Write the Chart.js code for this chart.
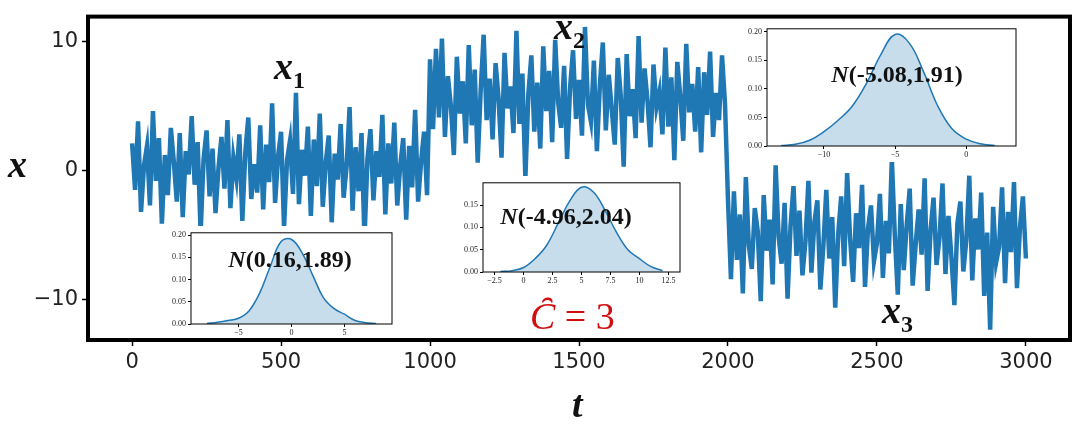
<!DOCTYPE html>
<html lang="en">
<head>
<meta charset="UTF-8" />
<title>Change points</title>
<script src="https://cdn.jsdelivr.net/npm/chart.js"></script>
<style>
  body { margin: 0; background: #fff; }
  #wrap { position: relative; width: 1080px; height: 424px; }
  canvas.inset { position: absolute; }
  .lbl { position: absolute; font-family: 'Liberation Serif', serif; font-weight: bold; color: #111; white-space: nowrap; }
  .lbl i { font-style: italic; }
  .big { font-size: 38px; font-style: italic; }
  .big sub { font-size: 24px; font-style: normal; }
  .nrm { font-size: 24px; transform: translateX(-50%); }
</style>
</head>
<body>
<div id="wrap">
  <canvas id="main" width="1080" height="424"></canvas>
  <canvas id="in1" class="inset" style="left:158px;top:226px" width="238" height="110"></canvas>
  <canvas id="in2" class="inset" style="left:450px;top:176px" width="234" height="112"></canvas>
  <canvas id="in3" class="inset" style="left:733px;top:22px" width="287" height="140"></canvas>

  <div class="lbl big" style="left:274px;top:44px">x<sub>1</sub></div>
  <div class="lbl big" style="left:554px;top:4px">x<sub>2</sub></div>
  <div class="lbl big" style="left:882px;top:288px">x<sub>3</sub></div>
  <div class="lbl big" style="left:8px;top:142px">x</div>
  <div class="lbl big" style="left:572px;top:382px">t</div>
  <div class="lbl" style="left:530px;top:294px;font-size:38px;font-weight:normal;color:#d01010"><i>C&#785;</i> = 3</div>
  <div class="lbl nrm" style="left:290px;top:246px"><i>N</i>(0.16,1.89)</div>
  <div class="lbl nrm" style="left:566px;top:203px"><i>N</i>(-4.96,2.04)</div>
  <div class="lbl nrm" style="left:897px;top:61px"><i>N</i>(-5.08,1.91)</div>
</div>
<script>
// series values, one array per regime
const seg1 = [2.1,-1.5,3.8,-3.2,0.4,1.9,-2.7,4.6,-0.8,2.5,-4.1,1.2,-1.9,3.3,0.7,-2.4,2.9,-3.6,1.5,-0.3,
  4.2,-1.1,2.2,-4.8,0.9,3.1,-2.0,1.7,-3.3,0.2,2.6,-1.4,3.9,-2.9,1.0,-0.6,2.8,-3.9,1.4,4.1,
  -2.2,0.5,-1.7,3.5,-3.0,2.0,-0.9,5.2,-2.5,1.1,3.0,-4.4,0.8,2.3,-1.8,6.0,-2.6,1.6,-0.4,3.4,
  -3.5,2.4,-1.2,4.4,-2.8,0.6,2.7,-4.0,1.3,-0.7,3.6,-2.1,0.3,4.9,-3.1,1.8,-1.6,2.9,-5.3,0.9,
  3.2,-2.3,1.5,-0.5,4.3,-3.4,2.1,-1.0,3.7,-2.7,0.4,2.5,-3.8,1.9,-1.3,4.7,-2.4,0.7,3.0,-1.9];
const seg2 = [8.6,3.2,9.4,4.1,10.2,2.6,7.3,5.0,1.2,8.8,4.4,6.9,2.1,9.7,3.5,7.8,0.6,6.2,10.5,3.9,
  7.1,2.4,8.3,5.6,1.0,9.1,4.8,6.5,2.9,10.8,3.6,7.5,-0.6,5.9,8.9,3.0,6.8,1.7,9.6,4.6,
  7.7,2.2,10.1,5.3,3.3,8.1,0.9,6.4,9.3,4.0,7.0,2.7,11.1,5.1,3.8,8.5,1.5,6.6,9.9,3.1,
  7.4,4.7,2.0,8.7,5.8,0.3,9.0,4.2,6.3,2.5,10.4,3.7,7.9,5.4,1.8,8.2,4.9,6.1,2.8,9.5,
  3.4,7.2,0.8,8.4,5.7,2.3,9.8,4.5,6.7,3.0,8.0,1.4,7.6,4.3,9.2,2.6,6.0,3.9,8.9,5.2];
const seg3 = [-2.2,-8.4,-1.6,-6.9,-3.4,-9.5,-0.5,-5.8,-7.6,-2.9,-4.7,-10.1,-1.9,-6.2,-3.8,-8.8,0.4,-5.1,-7.2,-2.5,
  -9.9,-4.3,-1.2,-6.6,-3.1,-8.1,-5.5,-0.8,-7.9,-4.0,-2.3,-9.2,-5.9,-1.5,-6.8,-3.6,-10.6,-4.9,-2.0,-7.4,
  -0.2,-5.3,-8.6,-3.3,-6.0,-1.1,-9.0,-4.5,-2.7,-7.0,-5.6,-1.8,-8.3,-3.9,-6.4,0.9,-5.0,-9.6,-2.6,-7.7,
  -4.2,-1.4,-8.9,-5.7,-3.0,-6.5,-0.6,-9.3,-4.6,-2.1,-7.3,-5.2,-1.0,-8.0,-3.5,-6.7,-10.4,-4.1,-2.4,-7.8,
  -5.4,-0.4,-8.5,-3.7,-6.1,-1.7,-9.7,-4.8,-12.3,-2.8,-7.1,-5.9,-1.3,-8.7,-3.2,-6.3,-0.9,-9.1,-4.4,-2.0,-6.8];
const segStarts = [0, 1000, 2000];
const xTicks = [0, 500, 1000, 1500, 2000, 2500, 3000];
const yTicks = [-10, 0, 10];

// kernel density curves of the insets
const kde1X = [-8,-7,-6,-5,-4,-3,-2,-1,0,1,2,3,4,5,6,7,8];
const kde1Y = [0.001,0.004,0.008,0.013,0.03,0.07,0.13,0.185,0.19,0.16,0.11,0.06,0.035,0.022,0.008,0.003,0.001];
const kde2X = [-2,-1,0,1,2,3,4,5,6,7,8,9,10,11,12];
const kde2Y = [0.001,0.003,0.01,0.03,0.06,0.11,0.16,0.19,0.18,0.14,0.09,0.05,0.03,0.012,0.003];
const kde3X = [-13,-12,-11,-10,-9,-8,-7,-6,-5,-4,-3,-2,-1,0,1,2];
const kde3Y = [0.001,0.003,0.01,0.025,0.045,0.07,0.11,0.16,0.195,0.18,0.13,0.07,0.03,0.012,0.004,0.001];

const points = [];
[seg1, seg2, seg3].forEach((s, k) => {
  const step = 1000 / (k === 2 ? s.length - 1 : s.length);
  s.forEach((v, i) => points.push({ x: segStarts[k] + i * step, y: v }));
});

const frame = (w) => ({
  id: 'frame',
  beforeDraw(c) {
    const g = c.ctx; g.save(); g.fillStyle = '#fff'; g.fillRect(0, 0, c.width, c.height); g.restore();
  },
  afterDraw(c) {
    const a = c.chartArea, g = c.ctx;
    g.save(); g.strokeStyle = '#000'; g.lineWidth = w;
    g.strokeRect(a.left, a.top, a.right - a.left, a.bottom - a.top); g.restore();
  }
});

const fmt = v => String(v).replace('-', '\u2212');

new Chart(document.getElementById('main'), {
  type: 'line',
  data: { datasets: [{ data: points, borderColor: '#1f77b4', borderWidth: 4.5, pointRadius: 0, tension: 0 }] },
  options: {
    responsive: false, animation: false,
    layout: { padding: { top: 12, right: 10, left: 0, bottom: 0 } },
    plugins: { legend: { display: false }, tooltip: { enabled: false } },
    scales: {
      x: {
        type: 'linear', min: -148, max: 3148,
        afterFit: s => { s.height = 84; },
        afterBuildTicks: s => { s.ticks = xTicks.map(v => ({ value: v })); },
        border: { display: false },
        grid: { drawOnChartArea: false, tickLength: 6, color: '#000', tickWidth: 1.5 },
        ticks: { color: '#222', font: { family: 'DejaVu Sans', size: 21 }, maxRotation: 0, padding: 4, callback: fmt }
      },
      y: {
        min: -13.1, max: 11.9,
        afterFit: s => { s.width = 88; },
        afterBuildTicks: s => { s.ticks = yTicks.map(v => ({ value: v })); },
        border: { display: false },
        grid: { drawOnChartArea: false, tickLength: 6, color: '#000', tickWidth: 1.5 },
        ticks: { color: '#222', font: { family: 'DejaVu Sans', size: 21 }, callback: fmt, padding: 4 }
      }
    }
  },
  plugins: [frame(4)]
});

function inset(id, xs, ys, xr, xt, yMax, yTickVals, yW, xH) {
  new Chart(document.getElementById(id), {
    type: 'line',
    data: { datasets: [{ data: xs.map((x, i) => ({ x, y: ys[i] })), borderColor: '#1f77b4', borderWidth: 1.5,
      backgroundColor: 'rgba(31,119,180,0.25)', fill: 'origin', pointRadius: 0, tension: 0.4 }] },
    options: {
      responsive: false, animation: false,
      layout: { padding: { top: 6, right: 4 } },
      plugins: { legend: { display: false }, tooltip: { enabled: false } },
      scales: {
        x: {
          type: 'linear', min: xr[0], max: xr[1],
          afterFit: s => { s.height = xH; },
          afterBuildTicks: s => { s.ticks = xt.map(v => ({ value: v })); },
          border: { display: false },
          grid: { drawOnChartArea: false, tickLength: 3, color: '#000' },
          ticks: { color: '#222', font: { family: 'Liberation Serif', size: 8 }, maxRotation: 0, padding: 1, callback: fmt }
        },
        y: {
          min: 0, max: yMax,
          afterFit: s => { s.width = yW; },
          afterBuildTicks: s => { s.ticks = yTickVals.map(v => ({ value: v })); },
          border: { display: false },
          grid: { drawOnChartArea: false, tickLength: 3, color: '#000' },
          ticks: { color: '#222', font: { family: 'Liberation Serif', size: 8 }, padding: 2, callback: v => v.toFixed(2) }
        }
      }
    },
    plugins: [frame(1)]
  });
}

inset('in1', kde1X, kde1Y, [-9.5, 9.5], [-5, 0, 5], 0.205, [0, 0.05, 0.1, 0.15, 0.2], 33, 12);
inset('in2', kde2X, kde2Y, [-3.5, 13.5], [-2.5, 0, 2.5, 5, 7.5, 10, 12.5], 0.2, [0, 0.05, 0.1, 0.15], 33, 16);
inset('in3', kde3X, kde3Y, [-14, 3.5], [-10, -5, 0], 0.205, [0, 0.05, 0.1, 0.15, 0.2], 34, 16);
</script>
</body>
</html>
